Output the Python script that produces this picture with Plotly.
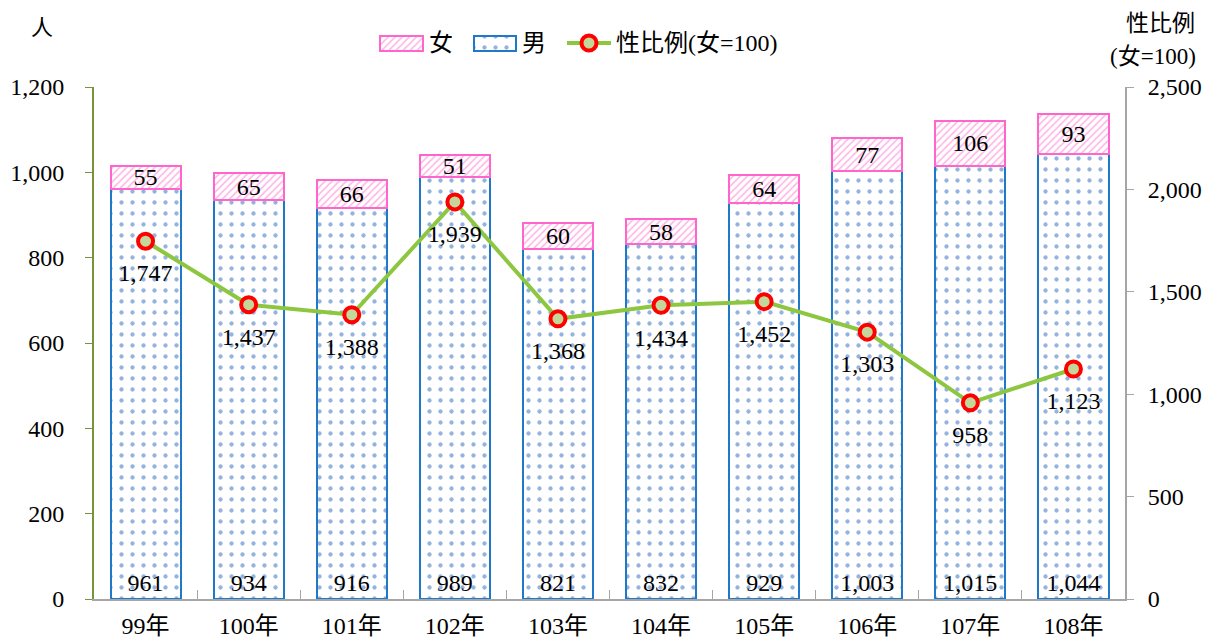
import plotly.graph_objects as go

years = ["99年", "100年", "101年", "102年", "103年", "104年", "105年", "106年", "107年", "108年"]
male = [961, 934, 916, 989, 821, 832, 929, 1003, 1015, 1044]
female = [55, 65, 66, 51, 60, 58, 64, 77, 106, 93]
sex_ratio = [1747, 1437, 1388, 1939, 1368, 1434, 1452, 1303, 958, 1123]

FONT = "Liberation Serif, Times New Roman, Noto Sans CJK TC, serif"
PINK = "#FF66CC"
BLUE_LINE = "#1F78C8"
BLUE_DOT = "#2A68C0"
GREEN = "#8DC63F"

male_marker = dict(color="white", line=dict(color=BLUE_LINE, width=2),
                   pattern=dict(shape=".", fgcolor=BLUE_DOT, bgcolor="white", size=11, solidity=0.12))
female_marker = dict(color="white", line=dict(color=PINK, width=2),
                     pattern=dict(shape="/", fgcolor=PINK, bgcolor="white", size=5, solidity=0.3))
ratio_marker = dict(size=15, color="#C4D79B", line=dict(color="#FF0000", width=4))

W, H = 1208, 642
L, R, T, B = 94, 83, 20, 43
plot_w = W - L - R
plot_h = H - T - B
main_top = (H - B - 87) / plot_h  # main plot area top at 87px


def px_x(p):
    return (p - L) / plot_w


def px_y(p):
    return (H - B - p) / plot_h


fig = go.Figure()

fig.add_trace(go.Bar(
    x=years, y=male, name="男", showlegend=False, marker=male_marker,
    text=[f"{v:,}" for v in male], textposition="inside", insidetextanchor="start",
    textangle=0, constraintext="none", textfont=dict(family=FONT, size=24, color="black"),
))
fig.add_trace(go.Bar(
    x=years, y=female, name="女", showlegend=False, marker=female_marker,
    text=[f"{v:,}" for v in female], textposition="inside", insidetextanchor="middle",
    textangle=0, constraintext="none", textfont=dict(family=FONT, size=24, color="black"),
))
fig.add_trace(go.Scatter(
    x=years, y=sex_ratio, name="性比例(女=100)", yaxis="y2", showlegend=False,
    mode="lines+markers", line=dict(color=GREEN, width=4), marker=ratio_marker,
    cliponaxis=False,
))
fig.add_trace(go.Scatter(
    x=years, y=sex_ratio, yaxis="y2", showlegend=False, mode="markers+text",
    text=[f"{v:,}" for v in sex_ratio], textposition="bottom center",
    marker=dict(size=34, opacity=0),
    textfont=dict(family=FONT, size=24, color="black"),
    cliponaxis=False, hoverinfo="skip",
))

# --- custom legend drawn on a pixel-scaled helper axis pair (x3/y3) ---
leg_y = 43
fig.add_trace(go.Bar(x=[43], y=[leg_y], base=[380], orientation="h", width=15,
                     marker=female_marker, xaxis="x3", yaxis="y3", showlegend=False,
                     hoverinfo="skip"))
fig.add_trace(go.Bar(x=[42], y=[leg_y], base=[474], orientation="h", width=15,
                     marker=male_marker, xaxis="x3", yaxis="y3", showlegend=False,
                     hoverinfo="skip"))
fig.add_trace(go.Scatter(x=[567, 611], y=[leg_y, leg_y], mode="lines", line=dict(color=GREEN, width=4),
                         xaxis="x3", yaxis="y3", showlegend=False, hoverinfo="skip"))
fig.add_trace(go.Scatter(x=[589], y=[leg_y], mode="markers", marker=ratio_marker,
                         xaxis="x3", yaxis="y3", showlegend=False, hoverinfo="skip"))

leg_texts = [("女", 427), ("男", 520), ("性比例(女=100)", 614)]
annotations = [dict(text=t, x=px_x(x), y=px_y(leg_y), xref="paper", yref="paper",
                    xanchor="left", yanchor="middle", showarrow=False,
                    font=dict(family=FONT, size=24, color="black"))
               for t, x in leg_texts]
annotations += [
    dict(text="人", x=px_x(42), y=px_y(27), xref="paper", yref="paper", showarrow=False,
         font=dict(family=FONT, size=22, color="black"), xanchor="center", yanchor="middle"),
    dict(text="性比例", x=px_x(1160), y=px_y(23), xref="paper", yref="paper", showarrow=False,
         font=dict(family=FONT, size=23, color="black"), xanchor="center", yanchor="middle"),
    dict(text="(女=100)", x=px_x(1153), y=px_y(57), xref="paper", yref="paper", showarrow=False,
         font=dict(family=FONT, size=23, color="black"), xanchor="center", yanchor="middle"),
]

fig.update_layout(
    width=W, height=H,
    margin=dict(l=L, r=R, t=T, b=B, autoexpand=False),
    barmode="stack", bargap=0.32,
    plot_bgcolor="white", paper_bgcolor="white",
    font=dict(family=FONT, size=24, color="black"),
    showlegend=False,
    xaxis=dict(type="category", range=[-0.5, len(years) - 0.5], autorange=False,
               showline=True, linecolor="#A6A6A6", linewidth=2,
               ticks="inside", tickson="boundaries", ticklen=9, tickcolor="#A6A6A6",
               ticklabelstandoff=4,
               tickfont=dict(family=FONT, size=24), showgrid=False, anchor="y"),
    yaxis=dict(domain=[0, main_top], range=[0, 1200], dtick=200, tickformat=",", showgrid=False,
               showline=True, linecolor="#77933C", linewidth=2,
               ticks="outside", ticklen=7, tickcolor="#77933C", ticklabelstandoff=16,
               tickfont=dict(family=FONT, size=24), zeroline=False),
    yaxis2=dict(domain=[0, main_top], range=[0, 2500], dtick=500, tickformat=",",
                overlaying="y", side="right", anchor="x",
                showgrid=False, showline=True, linecolor="#A6A6A6", linewidth=2,
                ticks="outside", ticklen=7, tickcolor="#A6A6A6", ticklabelstandoff=9,
                tickfont=dict(family=FONT, size=24), zeroline=False),
    xaxis3=dict(domain=[0, 1], range=[L, W - R], anchor="y3", visible=False, fixedrange=True),
    yaxis3=dict(domain=[main_top, 1], range=[87, T], anchor="x3", visible=False, fixedrange=True),
    annotations=annotations,
)

fig.write_html("out.html", config={"displayModeBar": False},
               post_script="document.body.style.margin='0';")
